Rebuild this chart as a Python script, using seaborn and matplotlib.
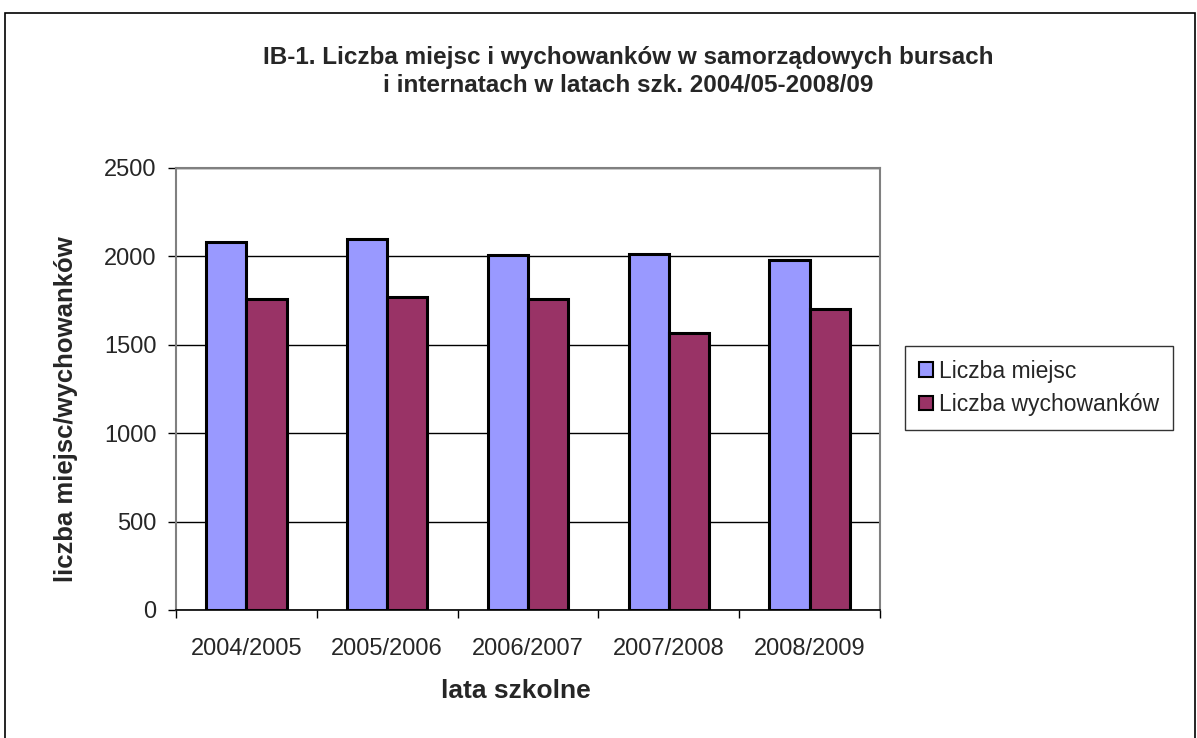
import matplotlib
matplotlib.use("Agg")
import matplotlib.pyplot as plt
import seaborn as sns
import pandas as pd
from matplotlib.patches import Rectangle

years = ["2004/2005", "2005/2006", "2006/2007", "2007/2008", "2008/2009"]
liczba_miejsc = [2080, 2100, 2007, 2015, 1979]
liczba_wychowankow = [1757, 1770, 1761, 1567, 1705]
series_names = ["Liczba miejsc", "Liczba wychowanków"]
colors = ["#9999FF", "#993366"]

df = pd.DataFrame({
    "rok": years * 2,
    "wartosc": liczba_miejsc + liczba_wychowankow,
    "seria": [series_names[0]] * len(years) + [series_names[1]] * len(years),
})

sns.set_theme(style="white")
plt.rcParams["font.family"] = ["Liberation Sans", "DejaVu Sans"]

fig = plt.figure(figsize=(11.97, 7.38), dpi=100)
ax = fig.add_axes([176/1197, 1-610/738, (880-176)/1197, (610-168)/738])

sns.barplot(data=df, x="rok", y="wartosc", hue="seria", order=years,
            hue_order=series_names, palette=colors, width=0.57,
            edgecolor="black", linewidth=2.2, saturation=1, ax=ax, legend=True)

ax.set_ylim(0, 2500)
ax.set_xlim(-0.5, len(years) - 0.5)
ax.set_yticks([0, 500, 1000, 1500, 2000, 2500])
ax.yaxis.grid(True, color="black", linewidth=1.0)
ax.set_axisbelow(True)

for s in ["left", "top", "right"]:
    ax.spines[s].set_color("#808080")
    ax.spines[s].set_linewidth(1.5)
ax.spines["bottom"].set_color("black")
ax.spines["bottom"].set_linewidth(1.2)

ax.tick_params(axis="y", which="major", direction="out", length=6, width=1,
               color="black", labelsize=17, pad=8, left=True)
ax.tick_params(axis="x", which="major", length=0, labelsize=17, pad=20)
ax.set_xticks([i - 0.5 for i in range(len(years) + 1)], minor=True)
ax.tick_params(axis="x", which="minor", direction="out", length=6, width=1,
               color="black", bottom=True)

ax.set_xlabel("lata szkolne", fontsize=19, fontweight="bold")
ax.xaxis.set_label_coords((516-176)/704, (610-679)/442)
ax.set_ylabel("liczba miejsc/wychowanków", fontsize=18.5, fontweight="bold",
              va="center")
ax.yaxis.set_label_coords((66-176)/704, (610-409)/442)

fig.suptitle("IB-1. Liczba miejsc i wychowanków w samorządowych bursach\n"
             "i internatach w latach szk. 2004/05-2008/09",
             x=628/1197, y=1-46/738, fontsize=17.5, fontweight="bold",
             linespacing=1.25, va="top")

ax.get_legend().remove()
handles = [Rectangle((0, 0), 1, 1, facecolor=c, edgecolor="black", linewidth=1.5) for c in colors]
leg = fig.legend(handles, series_names, loc="center left",
                 bbox_to_anchor=(905/1197, 1-388/738), fontsize=16.5,
                 frameon=True, fancybox=False, edgecolor="black",
                 handlelength=0.6, handleheight=0.6, handletextpad=0.3,
                 labelspacing=0.45, borderpad=0.6, borderaxespad=0)
leg.get_frame().set_linewidth(1.0)

fig.patches.append(Rectangle((5/1197, -0.1), (1195-5)/1197, 1.1 - 13/738,
                             transform=fig.transFigure, fill=False,
                             edgecolor="black", linewidth=1.2))

fig.savefig("out.png", dpi=100, facecolor="white")
